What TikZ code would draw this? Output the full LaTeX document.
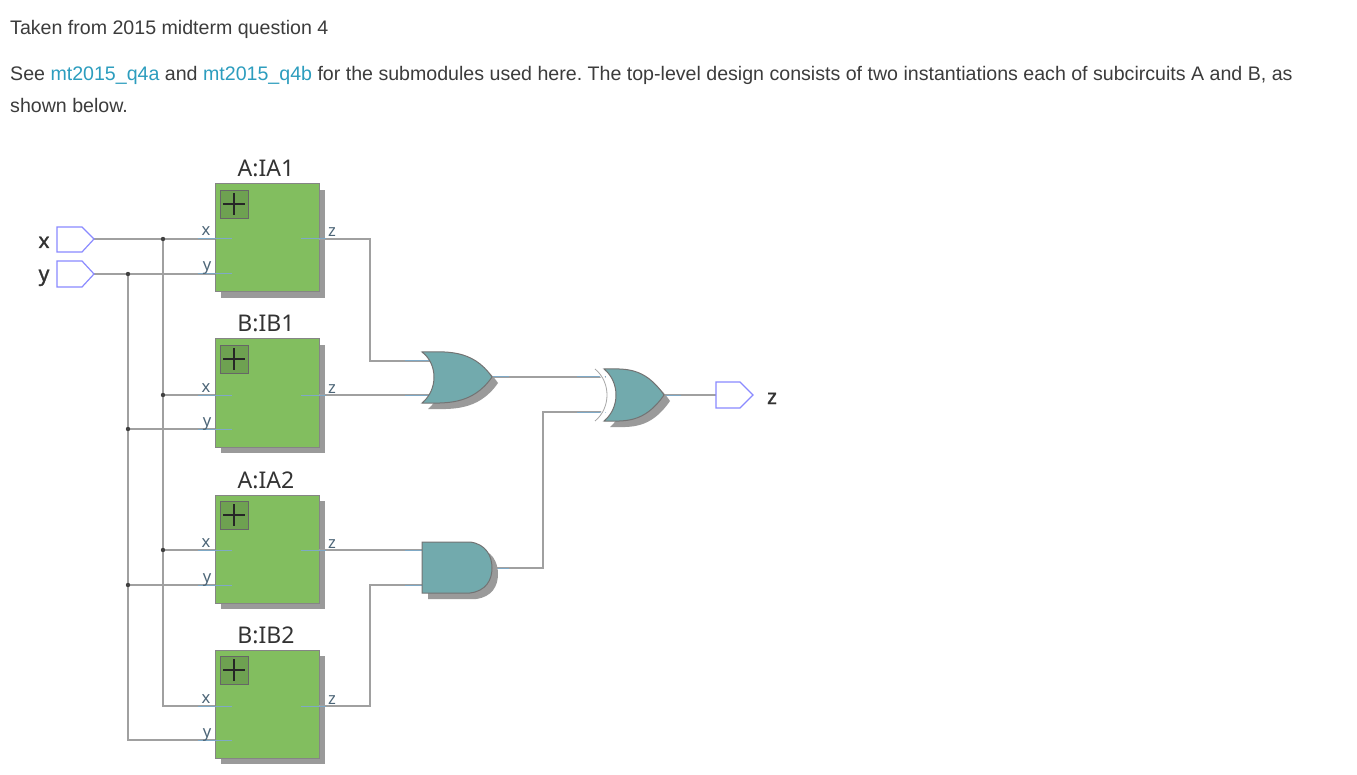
\documentclass[tikz,border=0pt]{standalone}
\usepackage{fontspec}
\usetikzlibrary{calc}
\setmainfont{Liberation Sans}
\newfontfamily\labfont{Noto Sans}
\newfontfamily\portfont[FakeBold=1.2]{Noto Sans}
\begin{document}
\frenchspacing
\definecolor{boxgreen}{HTML}{82BE5F}
\definecolor{gateteal}{HTML}{72AAAD}
\definecolor{shadowgray}{HTML}{9A9A9A}
\definecolor{wiregray}{HTML}{A0A0A0}
\definecolor{stubblue}{HTML}{7FA9C6}
\definecolor{portblue}{HTML}{8A8AFF}
\definecolor{linkblue}{HTML}{2C9DBE}
\definecolor{txt}{HTML}{3C3C3C}
\begin{tikzpicture}[x=1pt,y=-1pt,
  wire/.style={draw=wiregray,line width=1.3pt},
  stub/.style={draw=stubblue,line width=1pt},
  conn/.style={fill=black!75,circle,inner sep=0pt,minimum size=4.4pt},
  para/.style={anchor=base west,inner sep=0pt,text=txt,font=\fontsize{19.6}{22}\selectfont},
  title/.style={inner sep=0pt,text=black!80,font=\labfont\fontsize{23}{26}\selectfont},
  pinlab/.style={inner sep=0pt,text=stubblue!60!black,font=\labfont\fontsize{16.5}{18}\selectfont},
  portlab/.style={inner sep=0pt,text=black!80,font=\portfont\fontsize{21}{22}\selectfont},
  subbox/.style={draw=black!48,line width=1pt,fill=boxgreen,minimum width=104pt,minimum height=108pt,inner sep=0pt},
  boxshadow/.style={fill=shadowgray,minimum width=104pt,minimum height=108pt,inner sep=0pt},
  gate/.style={draw=black!55,line width=1pt,fill=gateteal},
  gateshadow/.style={fill=shadowgray},
  port/.style={draw=portblue,line width=1.2pt,fill=white}]
\useasboundingbox (0,0) rectangle (1357,775);
\fill[white] (0,0) rectangle (1357,775);
% text
\node[para] (t1) at (10,35) {Taken from 2015 midterm question 4};
\node[para] (t2) at (10,81) {See \textcolor{linkblue}{mt2015\_q4a} and \textcolor{linkblue}{mt2015\_q4b} for the submodules used here. The top-level design consists of two instantiations each of subcircuits A and B, as};
\node[para] (t3) at (10,113) {shown below.};
% named wiring points
\coordinate (px) at (94,239);
\coordinate (py) at (94,274);
\coordinate (jx1) at (163,239);
\coordinate (jx2) at (163,395);
\coordinate (jx3) at (163,550);
\coordinate (jx4) at (163,706);
\coordinate (jy1) at (128,274);
\coordinate (jy2) at (128,429);
\coordinate (jy3) at (128,585);
\coordinate (jy4) at (128,740);
\coordinate (orA) at (430,361);
\coordinate (orB) at (430,395);
\coordinate (orO) at (492,377);
\coordinate (xorA) at (606,377);
\coordinate (xorB) at (606,412);
\coordinate (xorO) at (664,395);
\coordinate (andA) at (422,550);
\coordinate (andB) at (422,585);
\coordinate (andO) at (492,568);
\coordinate (pz) at (716,395);
% boxes
\foreach \nm/\ttl/\tp/\xx/\yy/\zz in {IA1/A:IA1/184/239/274/239,IB1/B:IB1/339/395/429/395,IA2/A:IA2/495/550/585/550,IB2/B:IB2/650/706/740/706}{
  \pgfmathsetmacro{\cy}{\tp+54}
  \node[boxshadow] (\nm s) at (273,\cy+6) {};
  \node[subbox] (\nm) at (267,\cy) {};
  \node[title,anchor=base] (\nm t) at (266,\tp-7) {\ttl};
  \coordinate (\nm xp) at (215,\xx);
  \coordinate (\nm yp) at (215,\yy);
  \coordinate (\nm zp) at (319,\zz);
  \draw[draw=black!60,fill=boxgreen!85!black,line width=.9pt] (220,\tp+6) rectangle (248,\tp+34);
  \draw[draw=black!85,line width=2.6pt] (223,\tp+20) -- (245,\tp+20) (234,\tp+9) -- (234,\tp+31);
}
% wires
\draw[wire] (px) -- (IA1xp);
\draw[wire] (py) -- (IA1yp);
\draw[wire] (jx1) -- (jx4) -- (IB2xp);
\draw[wire] (jy1) -- (jy4) -- (IB2yp);
\draw[wire] (jx2) -- (IB1xp);
\draw[wire] (jy2) -- (IB1yp);
\draw[wire] (jx3) -- (IA2xp);
\draw[wire] (jy3) -- (IA2yp);
\draw[wire] (IA1zp) -| (370,361) -- (orA);
\draw[wire] (IB1zp) -- (orB);
\draw[wire] (IA2zp) -- (andA);
\draw[wire] (IB2zp) -| (370,585) -- (andB);
\draw[wire] (orO) -- (xorA);
\draw[wire] (andO) -| (543,412) -- (xorB);
\draw[wire] (xorO) -- (pz);
% blue stubs at pins and pin labels
\foreach \nm in {IA1,IB1,IA2,IB2}{
  \draw[stub] ($(\nm xp)+(-17,0)$) -- ($(\nm xp)+(17,0)$);
  \draw[stub] ($(\nm yp)+(-17,0)$) -- ($(\nm yp)+(17,0)$);
  \draw[stub] ($(\nm zp)+(-18,0)$) -- ($(\nm zp)+(7,0)$);
  \node[pinlab,anchor=base] (\nm xl) at ($(\nm xp)+(-9,-3)$) {x};
  \node[pinlab,anchor=base] (\nm yl) at ($(\nm yp)+(-8,-3)$) {y};
  \node[pinlab,anchor=base] (\nm zl) at ($(\nm zp)+(13,-2)$) {z};
}
\draw[stub] (405,361) -- (orA);
\draw[stub] (405,395) -- (orB);
\draw[stub] (405,550) -- (andA);
\draw[stub] (405,585) -- (andB);
\draw[stub] (orO) -- (509,377);
\draw[stub] (577,377) -- (xorA);
\draw[stub] (577,412) -- (xorB);
\draw[stub] (andO) -- (509,568);
\draw[stub] (xorO) -- (681,395);
% junctions
\foreach \j in {jx1,jx2,jx3,jy1,jy2,jy3}{\node[conn] (\j d) at (\j) {};}
% ports
\draw[port] (57,227) -- (82,227) -- (px) -- (82,252) -- (57,252) -- cycle;
\draw[port] (57,261) -- (82,261) -- (py) -- (82,287) -- (57,287) -- cycle;
\draw[port] (pz) -- (716,382) -- (740,382) -- (753,395) -- (740,408) -- (716,408) -- cycle;
\node[portlab,anchor=base] (lx) at (44,248) {x};
\node[portlab,anchor=base] (ly) at (44,281) {y};
\node[portlab,anchor=base] (lz) at (772,404) {z};
% gates
\def\orpath{(422,352) .. controls (444,352) and (472,348) .. (492,377) .. controls (472,406) and (444,403) .. (422,403) .. controls (438,390) and (438,364) .. (422,352) -- cycle}
\fill[gateshadow,xshift=6pt,yshift=-6pt] \orpath;
\draw[gate] \orpath;
\def\xorpath{(604,369) .. controls (624,369) and (644,366) .. (664,395) .. controls (644,424) and (624,421) .. (604,421) .. controls (620,408) and (620,382) .. (604,369) -- cycle}
\fill[gateshadow,xshift=6pt,yshift=-6pt] \xorpath;
\draw[gate] \xorpath;
\draw[draw=white,line width=4pt] (593,366) .. controls (613,382) and (613,408) .. (593,424);
\draw[draw=black!35,line width=.8pt] (595,369) .. controls (611,382) and (611,408) .. (595,421);
\def\andpath{(422,542) -- (470,542) .. controls (486,544) and (492,556) .. (492,568) .. controls (492,580) and (486,591) .. (470,593) -- (422,593) -- cycle}
\fill[gateshadow,xshift=6pt,yshift=-6pt] \andpath;
\draw[gate] \andpath;
\end{tikzpicture}
\end{document}
